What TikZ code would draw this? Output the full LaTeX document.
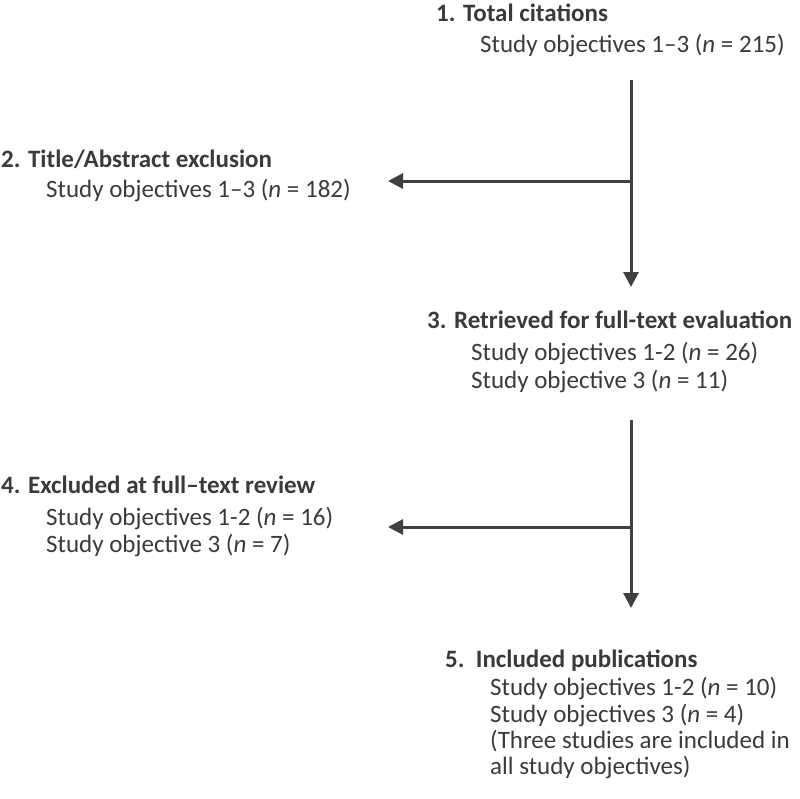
\documentclass[tikz,border=0pt]{standalone}
\usepackage{fontspec}
\setmainfont{Carlito}
\usetikzlibrary{arrows.meta}
\definecolor{txt}{HTML}{3A3A3A}
\definecolor{ln}{HTML}{404040}
\tikzset{
  lbl/.style={anchor=base west, inner sep=0pt, text=txt,
    font=\fontsize{25}{30}\selectfont},
  ttl/.style={lbl, font=\fontsize{25}{30}\selectfont\bfseries},
  flow/.style={draw=ln, line width=3pt, -{Triangle[length=15pt,width=15pt]}}
}
\begin{document}
\begin{tikzpicture}[x=1pt,y=-1pt]
\useasboundingbox (0,0) rectangle (800,798);
% block 1
\node[ttl] (b1) at (436,21) {1. Total citations};
\node[lbl] (b1a) at (480,52) {Study objectives 1–3 (\textit{n} = 215)};
% block 2
\node[ttl] (b2) at (1,167) {2. Title/Abstract exclusion};
\node[lbl] (b2a) at (46,197) {Study objectives 1–3 (\textit{n} = 182)};
% block 3
\node[ttl] (b3) at (427,328) {3. Retrieved for full-text evaluation};
\node[lbl] (b3a) at (471,360) {Study objectives 1-2 (\textit{n} = 26)};
\node[lbl] (b3b) at (471,388) {Study objective 3 (\textit{n} = 11)};
% block 4
\node[ttl] (b4) at (1,493) {4. Excluded at full–text review};
\node[lbl] (b4a) at (46,525) {Study objectives 1-2 (\textit{n} = 16)};
\node[lbl] (b4b) at (46,552) {Study objective 3 (\textit{n} = 7)};
% block 5
\node[ttl] (b5) at (445,667) {5.\ \ Included publications};
\node[lbl] (b5a) at (490,695) {Study objectives 1-2 (\textit{n} = 10)};
\node[lbl] (b5b) at (490,722) {Study objectives 3 (\textit{n} = 4)};
\node[lbl] (b5c) at (490,748) {(Three studies are included in};
\node[lbl] (b5d) at (490,774) {all study objectives)};
% connectors
\coordinate (s1) at (631,80);
\coordinate (j1) at (631,181);
\coordinate (e1) at (631,287);
\coordinate (x1) at (388,181);
\coordinate (s2) at (631,420);
\coordinate (j2) at (631,527);
\coordinate (e2) at (631,608);
\coordinate (x2) at (388,527);
\draw[flow] (s1) -- (e1);
\draw[flow] (j1) -- (x1);
\draw[flow] (s2) -- (e2);
\draw[flow] (j2) -- (x2);
\end{tikzpicture}
\end{document}
